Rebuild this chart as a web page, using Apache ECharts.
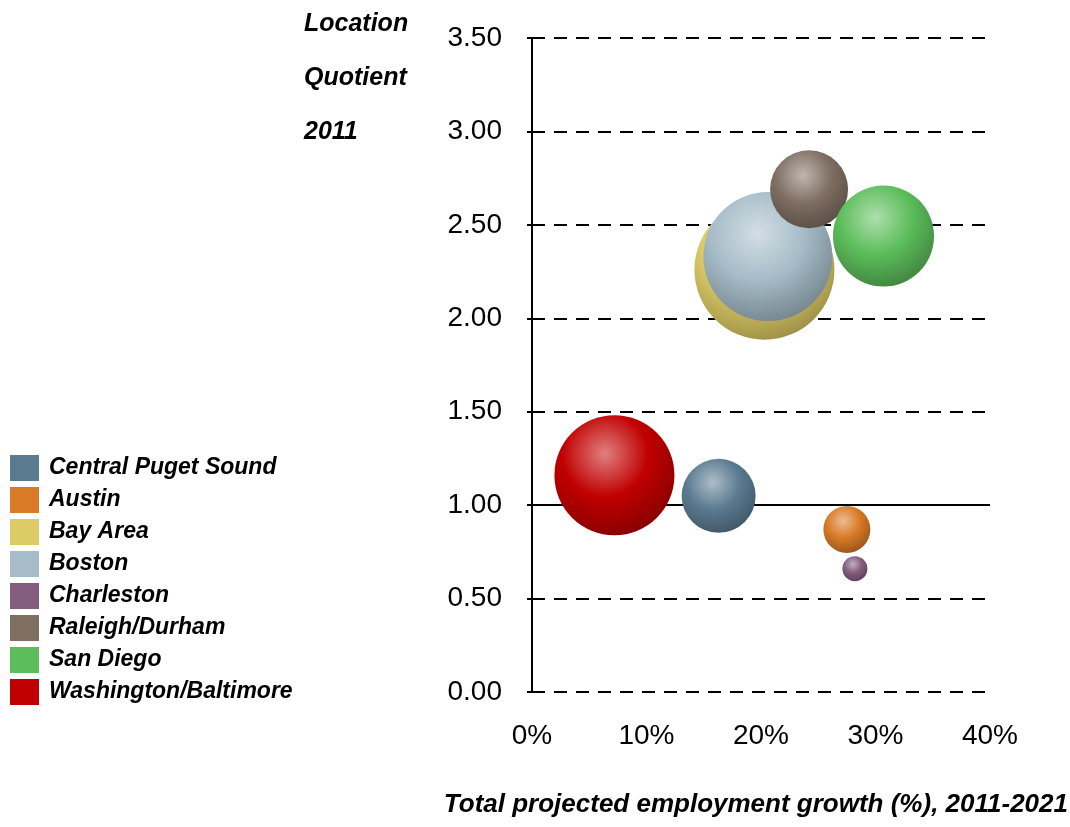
<!DOCTYPE html>
<html>
<head>
<meta charset="utf-8">
<script src="https://cdn.jsdelivr.net/npm/echarts@6/dist/echarts.min.js"></script>
<style>
html,body{margin:0;padding:0;background:#fff;}
#c{width:1070px;height:827px;}
</style>
</head>
<body>
<div id="c"></div>
<script>
// Data
var regions = ['Central Puget Sound','Austin','Bay Area','Boston','Charleston','Raleigh/Durham','San Diego','Washington/Baltimore'];
var growth = [16.3, 27.5, 20.3, 20.6, 28.2, 24.2, 30.7, 7.2];          // x, %
var locationQuotient = [1.05, 0.87, 2.26, 2.33, 0.66, 2.69, 2.44, 1.16]; // y
var bubbleSize = [342, 138, 1225, 1040, 39, 380, 638, 900];           // relative size
var colors = ['#5b7b91','#d87a26','#dccb66','#a6bcc8','#845c7e','#7f6e62','#5cbd5a','#c00000'];
var xTicks = [0, 10, 20, 30, 40];
var yTicks = [0, 0.5, 1, 1.5, 2, 2.5, 3, 3.5];
var yTitle = 'Location\nQuotient\n2011';
var xTitle = 'Total projected employment growth (%), 2011-2021';

function shade(hex, f) {
  var r = parseInt(hex.substr(1,2),16), g = parseInt(hex.substr(3,2),16), b = parseInt(hex.substr(5,2),16);
  function m(c){ return Math.round(f >= 0 ? c + (255 - c) * f : c * (1 + f)); }
  return 'rgb(' + m(r) + ',' + m(g) + ',' + m(b) + ')';
}

var font = "'Liberation Sans', Arial, sans-serif";

var series = regions.map(function (name, i) {
  var c = colors[i];
  var s = {
    name: name,
    type: 'scatter',
    data: [[growth[i], locationQuotient[i], bubbleSize[i]]],
    symbolSize: function (v) { return Math.sqrt(v[2]) * 4; },
    itemStyle: {
      opacity: 1,
      color: {
        type: 'radial', x: 0.42, y: 0.32, r: 0.72,
        colorStops: [
          { offset: 0, color: shade(c, 0.5) },
          { offset: 0.5, color: c },
          { offset: 1, color: shade(c, -0.3) }
        ]
      }
    },
    z: 3 + i
  };
  if (i === 0) {
    s.markLine = {
      silent: true,
      symbol: 'none',
      label: { show: false },
      lineStyle: { color: '#000', type: 'solid', width: 2 },
      data: [{ yAxis: 1 }],
      z: 1
    };
  }
  return s;
});

var chart = echarts.init(document.getElementById('c'), null, { renderer: 'canvas' });
chart.setOption({
  backgroundColor: '#fff',
  animation: false,
  textStyle: { fontFamily: font },
  title: [{
    text: yTitle,
    left: 304, top: -3, padding: 0,
    textStyle: { fontFamily: font, fontSize: 25, fontWeight: 'bold', fontStyle: 'italic', color: '#000', lineHeight: 54 }
  }, {
    text: xTitle,
    right: 2, top: 792, padding: 0,
    textStyle: { fontFamily: font, fontSize: 26, fontWeight: 'bold', fontStyle: 'italic', color: '#000' }
  }],
  legend: {
    orient: 'vertical',
    left: 5, top: 450,
    itemWidth: 29, itemHeight: 26, itemGap: 6,
    icon: 'rect',
    data: regions.map(function (n, i) { return { name: n, itemStyle: { color: colors[i] } }; }),
    textStyle: { fontFamily: font, fontSize: 23, fontWeight: 'bold', fontStyle: 'italic', color: '#000', padding: [0,0,0,5] }
  },
  grid: { left: 532, right: 80, top: 38, bottom: 135 },
  xAxis: {
    type: 'value', min: xTicks[0], max: xTicks[xTicks.length - 1], interval: 10,
    axisLine: { show: false },
    axisTick: { show: false },
    splitLine: { show: false },
    axisLabel: { fontFamily: font, fontSize: 28, color: '#000', margin: 30, formatter: function (v) { return v + '%'; } }
  },
  yAxis: {
    type: 'value', min: yTicks[0], max: yTicks[yTicks.length - 1], interval: 0.5,
    axisLine: { show: true, lineStyle: { color: '#000', width: 2 } },
    axisTick: { show: true, length: 5, lineStyle: { color: '#000', width: 2 } },
    splitLine: { show: true, lineStyle: { color: '#000', width: 2, type: [13, 9] } },
    axisLabel: { fontFamily: font, fontSize: 28, color: '#000', margin: 30, formatter: function (v) { return v.toFixed(2); } }
  },
  series: series
});
</script>
</body>
</html>
